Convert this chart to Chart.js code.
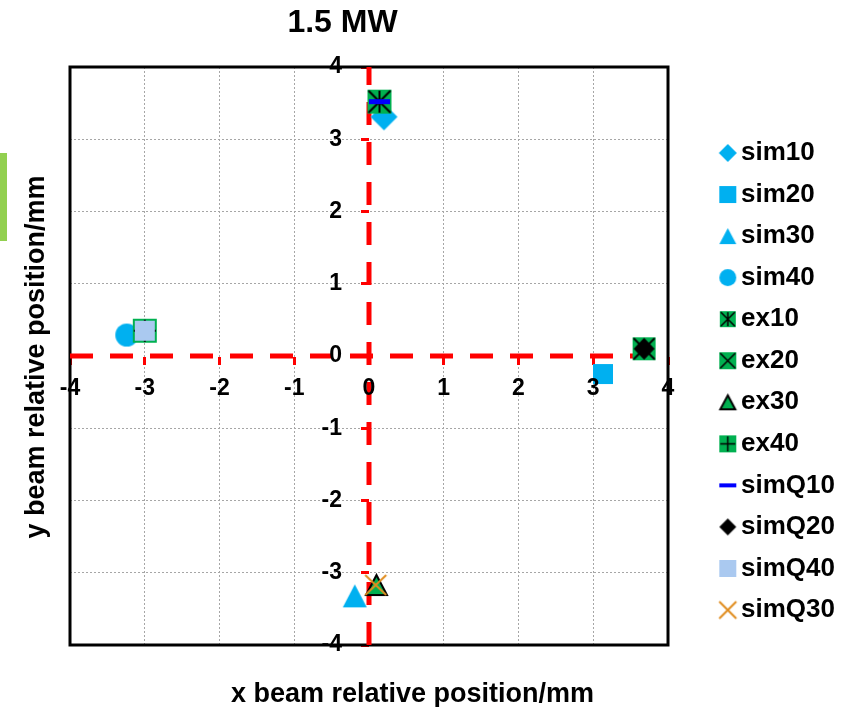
<!DOCTYPE html>
<html>
<head>
<meta charset="utf-8">
<script src="https://cdn.jsdelivr.net/npm/chart.js@4/dist/chart.umd.min.js"></script>
<style>
html,body{margin:0;padding:0;background:#fff;}
#wrap{position:relative;width:856px;height:707px;overflow:hidden;}
#c{position:absolute;left:0;top:0;}
#tag{position:absolute;left:0;top:153px;width:7px;height:88px;background:#92d050;}
</style>
</head>
<body>
<div id="wrap"><canvas id="c" width="856" height="707"></canvas><div id="tag"></div></div>
<script>
// ---- data ----
const chartTitle = '1.5 MW';
const xAxisTitle = 'x beam relative position/mm';
const yAxisTitle = 'y beam relative position/mm';
const seriesNames = ['sim10','sim20','sim30','sim40','ex10','ex20','ex30','ex40','simQ10','simQ20','simQ40','simQ30'];
const xValues = [0.20, 3.13, -0.19, -3.24, 0.14, 3.68, 0.10, -3.00, 0.14, 3.68, -3.00, 0.09];
const yValues = [3.31, -0.25, -3.32, 0.29, 3.52, 0.10, -3.17, 0.35, 3.52, 0.10, 0.35, -3.17];
const tickValues = [-4, -3, -2, -1, 0, 1, 2, 3, 4];
const axisMin = -4, axisMax = 4;
const refLineX = [axisMin, axisMax];   // horizontal reference line at y = 0
const refLineY = [axisMin, axisMax];   // vertical reference line at x = 0

// ---- marker styles ----
const CYAN = '#00b0f0', GREEN = '#00b050', BLUE = '#0000ff', LBLUE = '#aac9f0', ORANGE = '#e08c1e';
const markerKinds = [
  {k:'diamond', c:CYAN, plot:[27,27], leg:[18,18]},
  {k:'square', c:CYAN, plot:[20,20], leg:[17,17]},
  {k:'triangle', c:CYAN, plot:[24,23], leg:[17,16]},
  {k:'circle', c:CYAN, plot:[23,23], leg:[17,17]},
  {k:'gstar', c:GREEN, plot:[24,24], leg:[16,16]},
  {k:'gx', c:GREEN, plot:[23,23], leg:[17,17]},
  {k:'gtri', c:GREEN, plot:[23,22], leg:[17,16]},
  {k:'gplus', c:GREEN, plot:[24,24], leg:[17,17]},
  {k:'dash', c:BLUE, plot:[21,5], leg:[17,4]},
  {k:'diamond', c:'#000000', plot:[21,22], leg:[17,17]},
  {k:'square', c:LBLUE, plot:[20,20], leg:[17,17]},
  {k:'cross', c:ORANGE, plot:[21,20], leg:[17,17]}
];

function makeMarker(kind, color, w, h) {
  const pad = 2;
  const cv = document.createElement('canvas');
  cv.width = w + pad * 2; cv.height = h + pad * 2;
  const g = cv.getContext('2d');
  const cx = cv.width / 2, cy = cv.height / 2;
  const L = cx - w / 2, R = cx + w / 2, T = cy - h / 2, B = cy + h / 2;
  g.fillStyle = color; g.strokeStyle = '#000'; g.lineCap = 'butt';
  const lw = Math.max(1.5, w / 12);
  const ins = kind === 'gtri' ? 1 : 0;
  if (kind === 'diamond') {
    g.beginPath(); g.moveTo(cx, T); g.lineTo(R, cy); g.lineTo(cx, B); g.lineTo(L, cy); g.closePath(); g.fill();
  } else if (kind === 'square' || kind === 'dash') {
    g.fillRect(L, T, w, h);
  } else if (kind === 'triangle' || kind === 'gtri') {
    g.beginPath(); g.moveTo(cx, T + ins); g.lineTo(R - ins, B - ins); g.lineTo(L + ins, B - ins); g.closePath(); g.fill();
    if (kind === 'gtri') { g.lineWidth = 2; g.lineJoin = 'miter'; g.stroke(); }
  } else if (kind === 'circle') {
    g.beginPath(); g.arc(cx, cy, w / 2, 0, Math.PI * 2); g.fill();
  } else if (kind === 'gstar' || kind === 'gx' || kind === 'gplus') {
    g.fillRect(L, T, w, h);
    g.lineWidth = lw;
    g.beginPath();
    if (kind === 'gstar' || kind === 'gx') { g.moveTo(L + 1, T + 1); g.lineTo(R - 1, B - 1); g.moveTo(R - 1, T + 1); g.lineTo(L + 1, B - 1); }
    if (kind === 'gstar' || kind === 'gplus') { g.moveTo(cx, T + 1); g.lineTo(cx, B - 1); }
    if (kind === 'gplus') { g.moveTo(L + 1, cy); g.lineTo(R - 1, cy); }
    g.stroke();
  } else if (kind === 'cross') {
    g.strokeStyle = color; g.lineWidth = 2;
    g.beginPath(); g.moveTo(L, T); g.lineTo(R, B); g.moveTo(R, T); g.lineTo(L, B); g.stroke();
  }
  return cv;
}
const plotMarkers = markerKinds.map(m => makeMarker(m.k, m.c, m.plot[0], m.plot[1]));
const legendMarkers = markerKinds.map(m => makeMarker(m.k, m.c, m.leg[0], m.leg[1]));

// ---- datasets ----
const datasets = seriesNames.map((name, i) => ({
  label: name,
  data: [{x: xValues[i], y: yValues[i]}],
  pointStyle: plotMarkers[i],
  pointRadius: 10,
  showLine: false,
  order: 50 - i,
  xAxisID: 'x', yAxisID: 'y'
}));
datasets.push({
  label: 'axis-h', data: refLineX.map(v => ({x: v, y: 0})), showLine: true,
  borderColor: '#ff0000', borderWidth: 5, borderDash: [23, 17], pointRadius: 0, order: 100, xAxisID: 'x', yAxisID: 'y'
});
datasets.push({
  label: 'axis-v', data: refLineY.map(v => ({x: 0, y: v})), showLine: true,
  borderColor: '#ff0000', borderWidth: 5, borderDash: [23, 17], pointRadius: 0, order: 100, xAxisID: 'x', yAxisID: 'y'
});

Chart.defaults.font.family = "'Liberation Sans', Arial, sans-serif";
Chart.defaults.color = '#000';

const gridColor = ctx => {
  const v = ctx.tick ? ctx.tick.value : null;
  return (v === 0 || v === axisMin || v === axisMax) ? 'rgba(0,0,0,0)' : '#a6a6a6';
};

const decor = {
  id: 'decor',
  beforeDatasetsDraw(chart) {
    const {ctx, chartArea: a} = chart;
    ctx.save();
    ctx.strokeStyle = '#000'; ctx.lineWidth = 3;
    ctx.strokeRect(a.left, a.top, a.right - a.left, a.bottom - a.top);
    ctx.restore();
  },
  afterDraw(chart) {
    const c = chart.ctx;
    c.save();
    c.fillStyle = '#000'; c.textAlign = 'center'; c.textBaseline = 'alphabetic';
    c.font = "bold 32px 'Liberation Sans', Arial, sans-serif";
    c.fillText(chartTitle, 342.5, 32);
    c.font = "bold 27px 'Liberation Sans', Arial, sans-serif";
    c.fillText(xAxisTitle, 412.5, 702);
    c.translate(44, 357); c.rotate(-Math.PI / 2);
    c.fillText(yAxisTitle, 0, 0);
    c.restore();
  }
};

const setTicks = s => { s.ticks = tickValues.map(v => ({value: v})); };

new Chart(document.getElementById('c'), {
  type: 'scatter',
  data: {datasets},
  options: {
    responsive: false, animation: false, devicePixelRatio: 1, events: [],
    layout: {padding: {left: 70, top: 67, right: 11, bottom: 11}},
    plugins: {
      title: {display: false},
      tooltip: {enabled: false},
      legend: {
        position: 'right', align: 'center', maxWidth: 300,
        labels: {
          usePointStyle: true, pointStyleWidth: 0.5, padding: 15.55, color: '#000',
          font: {size: 26, weight: 'bold'},
          filter: item => item.datasetIndex < seriesNames.length,
          sort: (a, b) => a.datasetIndex - b.datasetIndex,
          generateLabels(chart) {
            const items = Chart.defaults.plugins.legend.labels.generateLabels(chart);
            items.forEach(it => { if (it.datasetIndex < seriesNames.length) it.pointStyle = legendMarkers[it.datasetIndex]; });
            return items;
          }
        }
      }
    },
    scales: {
      x: {
        type: 'linear', position: 'center', min: axisMin, max: axisMax,
        afterBuildTicks: setTicks,
        grid: {color: gridColor, lineWidth: 1, tickColor: '#ff0000', tickWidth: 3, tickLength: 8},
        border: {display: false, dash: [2, 2]},
        ticks: {z: 1, padding: 11, color: '#000', font: {size: 23, weight: 'bold'}, maxRotation: 0, autoSkip: false}
      },
      y: {
        type: 'linear', position: 'center', min: axisMin, max: axisMax,
        afterBuildTicks: setTicks,
        grid: {color: gridColor, lineWidth: 1, tickColor: '#ff0000', tickWidth: 3, tickLength: 8},
        border: {display: false, dash: [2, 2]},
        ticks: {z: 1, padding: 19, color: '#000', font: {size: 23, weight: 'bold'}, autoSkip: false}
      },
      xPad: {
        type: 'linear', axis: 'x', position: 'bottom',
        grid: {display: false}, border: {display: false}, ticks: {display: false},
        afterFit: s => { s.height = 51; }
      },
      yPad: {
        type: 'linear', axis: 'y', position: 'right',
        grid: {display: false}, border: {display: false}, ticks: {display: false},
        afterFit: s => { s.width = 44; }
      }
    }
  },
  plugins: [decor]
});
</script>
</body>
</html>
